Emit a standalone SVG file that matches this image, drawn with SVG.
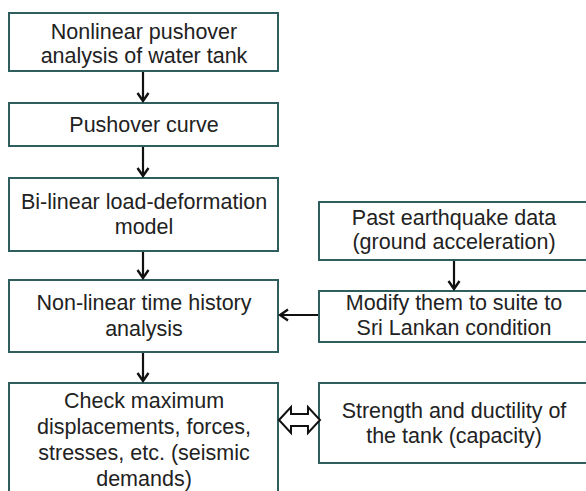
<svg xmlns="http://www.w3.org/2000/svg" width="586" height="491" viewBox="0 0 586 491">
<defs>
<style>
.box{fill:#fff;stroke:#2f5e5e;stroke-width:2}
.t{font-family:"Liberation Sans",Arial,sans-serif;font-size:21.5px;fill:#222;text-anchor:middle}
.c{stroke:#111;stroke-width:2.2;fill:none}
</style>
<marker id="ah" viewBox="0 0 14 14" refX="12" refY="7" markerWidth="14" markerHeight="14" markerUnits="userSpaceOnUse" orient="auto">
<path d="M4,1.5 L12,7 L4,12.5" fill="none" stroke="#111" stroke-width="2.4"/>
</marker>
</defs>
<rect width="586" height="491" fill="#fff"/>
<g id="n1"><rect class="box" x="9" y="13" width="269" height="58"/>
<text class="t" x="144" y="39">Nonlinear pushover</text><text class="t" x="144" y="63">analysis of water tank</text></g>
<g id="n2"><rect class="box" x="9" y="103" width="269" height="43"/>
<text class="t" x="144" y="132">Pushover curve</text></g>
<g id="n3"><rect class="box" x="9" y="178" width="269" height="73"/>
<text class="t" x="144" y="209">Bi-linear load-deformation</text><text class="t" x="144" y="234">model</text></g>
<g id="n4"><rect class="box" x="9" y="280" width="269" height="72"/>
<text class="t" x="144" y="310">Non-linear time history</text><text class="t" x="144" y="336">analysis</text></g>
<g id="n5"><rect class="box" x="9" y="383" width="269" height="120"/>
<text class="t" x="144" y="408">Check maximum</text><text class="t" x="144" y="434">displacements, forces,</text><text class="t" x="144" y="460">stresses, etc. (seismic</text><text class="t" x="144" y="486">demands)</text></g>
<g id="nA"><rect class="box" x="319" y="202" width="270" height="58"/>
<text class="t" x="454" y="225">Past earthquake data</text><text class="t" x="454" y="249">(ground acceleration)</text></g>
<g id="nB"><rect class="box" x="319" y="291" width="270" height="51"/>
<text class="t" x="454" y="310">Modify them to suite to</text><text class="t" x="454" y="335">Sri Lankan condition</text></g>
<g id="nC"><rect class="box" x="319" y="383" width="270" height="80"/>
<text class="t" x="454" y="418">Strength and ductility of</text><text class="t" x="454" y="443">the tank (capacity)</text></g>
<g id="connectors">
<line class="c" x1="143" y1="72" x2="143" y2="101" marker-end="url(#ah)"/>
<line class="c" x1="143" y1="147" x2="143" y2="176" marker-end="url(#ah)"/>
<line class="c" x1="143" y1="252" x2="143" y2="278" marker-end="url(#ah)"/>
<line class="c" x1="143" y1="353" x2="143" y2="381" marker-end="url(#ah)"/>
<line class="c" x1="454" y1="261" x2="454" y2="289" marker-end="url(#ah)"/>
<line class="c" x1="318" y1="315" x2="280" y2="315" marker-end="url(#ah)"/>
<path d="M279,420 L291,407 L291,414 L308,414 L308,407 L320,420 L308,433 L308,426 L291,426 L291,433 Z" fill="#fff" stroke="#111" stroke-width="2" stroke-linejoin="miter"/>
</g>
</svg>
